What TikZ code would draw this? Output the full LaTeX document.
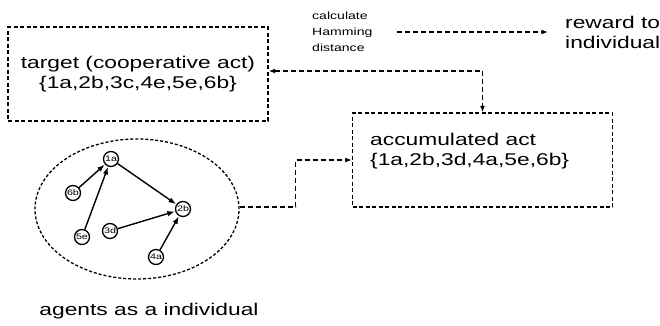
\documentclass[tikz,border=0pt]{standalone}
\usepackage{fontspec}
\setmainfont{Liberation Sans}[FakeStretch=1.34]
\usetikzlibrary{arrows.meta,shapes.geometric}
\begin{document}
\begin{tikzpicture}[x=1pt,y=-1pt,
  bigtext/.style={font=\fontsize{17}{20}\selectfont, inner sep=0pt},
  dbox/.style={draw, line width=1.4pt, dash pattern=on 4pt off 2.5pt, minimum width=260pt, minimum height=94pt, inner sep=0pt},
  dconn/.style={line width=1.5pt, dash pattern=on 5pt off 3pt, -{Latex[length=6.5pt,width=5pt]}},
  agent/.style={draw, circle, line width=1.3pt, minimum size=15pt, inner sep=0pt, font=\fontsize{8}{9}\selectfont},
  link/.style={line width=1.4pt, -{Latex[length=7.5pt,width=5.5pt]}, shorten >=0.3pt}
]
\useasboundingbox (0,0) rectangle (660,325);

\node[dbox, bigtext, align=center] (target) at (138,74) {target (cooperative act)\\\{1a,2b,3c,4e,5e,6b\}};
\node[dbox] (acc) at (482.5,160) {};
\node[bigtext, align=left, anchor=west] (acct) at (370,151) {accumulated act\\\{1a,2b,3d,4a,5e,6b\}};

\node[font=\fontsize{10.5}{16}\selectfont, align=left, anchor=west, inner sep=0pt] (calc) at (312,32) {calculate\\Hamming\\distance};
\node[bigtext, align=left, anchor=west] (reward) at (565,32) {reward to\\individual};

\node[draw, ellipse, line width=1.3pt, dash pattern=on 3pt off 2pt, minimum width=204pt, minimum height=140pt, inner sep=0pt] (el) at (137,209) {};

\node[agent] (a1) at (111,159) {1a};
\node[agent] (a6) at (73,193) {6b};
\node[agent] (a2) at (183,209) {2b};
\node[agent] (a5) at (82,237) {5e};
\node[agent] (a3) at (110,231) {3d};
\node[agent] (a4) at (156,257) {4a};

\draw[link] (a6) -- (a1);
\draw[link] (a5) -- (a1);
\draw[link] (a1) -- (a2);
\draw[link] (a3) -- (a2);
\draw[link] (a4) -- (a2);

\node[bigtext] (agents) at (149,311) {agents as a individual};

\draw[dconn, shorten <=24pt, shorten >=17pt] (calc.east |- reward.west) -- (reward.west);
\draw[dconn, {Latex[length=6.5pt,width=5pt]}-{Latex[length=6.5pt,width=5pt]}] ([yshift=3pt]target.east) -| (acc.north);
\draw[dconn] ([yshift=2pt]el.east) -- ++(56,0) |- (acc.west);
\end{tikzpicture}
\end{document}
